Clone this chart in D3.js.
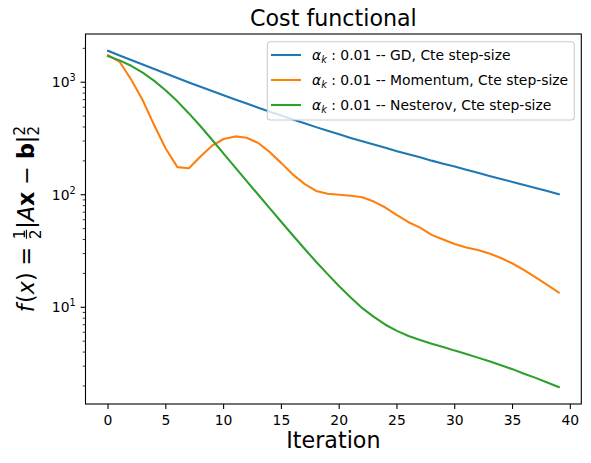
<!DOCTYPE html>
<html>
<head>
<meta charset="utf-8">
<script src="https://cdn.jsdelivr.net/npm/d3@7"></script>
<style>
  body { margin: 0; background: #fff; }
  svg { font-family: "DejaVu Sans", sans-serif; }
</style>
</head>
<body>
<div id="chart"></div>
<script>
// iteration index 0..39
const iterations = d3.range(40);
const xTicks = [0, 5, 10, 15, 20, 25, 30, 35, 40];

// cost values (log axis)
const gdCost = [1901, 1730, 1574, 1435, 1309, 1194, 1089, 995, 912, 836,
  766, 703, 646, 594, 547, 505, 467, 432, 399, 370,
  344, 320, 299, 279, 261, 244, 229, 215, 201, 189,
  178, 167, 157, 147, 138, 130, 122, 115, 108, 101];
const momentumCost = [1740, 1520, 1057, 692, 414, 256, 176, 172, 219, 273,
  313, 330, 321, 288, 239, 191, 151, 125, 108, 102,
  100, 98, 95, 87, 77, 66, 57, 51, 44, 40,
  36.5, 34, 32.3, 30.1, 27.4, 24.5, 21.4, 18.4, 15.8, 13.5];
const nesterovCost = [1706, 1563, 1400, 1216, 1028, 845, 676, 528, 406, 308,
  232, 175, 132, 100, 75.7, 57.3, 43.4, 33.1, 25.4, 19.7,
  15.4, 12.2, 9.82, 8.22, 7.00, 6.17, 5.56, 5.11, 4.74, 4.44,
  4.12, 3.85, 3.57, 3.31, 3.05, 2.82, 2.57, 2.36, 2.15, 1.95];

const seriesNames = ["GD", "Momentum", "Nesterov"];
const seriesColors = ["#1f77b4", "#ff7f0e", "#2ca02c"];
const allSeries = [gdCost, momentumCost, nesterovCost];

const width = 591, height = 463;
const plot = { left: 85.5, right: 581.3, top: 34, bottom: 404 };

const svg = d3.select("#chart").append("svg")
  .attr("width", width)
  .attr("height", height);

// matplotlib-like 5% margins
const xPad = (iterations[iterations.length - 1] - iterations[0]) * 0.05;
const x = d3.scaleLinear()
  .domain([iterations[0] - xPad, iterations[iterations.length - 1] + xPad])
  .range([plot.left, plot.right]);

const allVals = allSeries.flat();
const lmin = Math.log10(d3.min(allVals)), lmax = Math.log10(d3.max(allVals));
const lPad = (lmax - lmin) * 0.05;
const y = d3.scaleLog()
  .domain([Math.pow(10, lmin - lPad), Math.pow(10, lmax + lPad)])
  .range([plot.bottom, plot.top]);

// lines
const line = d3.line()
  .x((d, i) => x(iterations[i]))
  .y(d => y(d));

svg.append("clipPath").attr("id", "clip")
  .append("rect")
  .attr("x", plot.left).attr("y", plot.top)
  .attr("width", plot.right - plot.left)
  .attr("height", plot.bottom - plot.top);

svg.append("g").attr("clip-path", "url(#clip)")
  .selectAll("path")
  .data(allSeries)
  .enter().append("path")
  .attr("d", d => line(d))
  .attr("fill", "none")
  .attr("stroke", (d, i) => seriesColors[i])
  .attr("stroke-width", 2.08)
  .attr("stroke-linejoin", "round")
  .attr("stroke-linecap", "square");

// x axis ticks
const xAxis = svg.append("g");
xTicks.forEach(t => {
  xAxis.append("line")
    .attr("x1", x(t)).attr("x2", x(t))
    .attr("y1", plot.bottom).attr("y2", plot.bottom + 4.9)
    .attr("stroke", "#000").attr("stroke-width", 1.1);
  xAxis.append("text")
    .attr("x", x(t)).attr("y", plot.bottom + 21)
    .attr("text-anchor", "middle")
    .attr("font-size", 13.9)
    .text(t);
});

// y axis (log) ticks
const yAxis = svg.append("g");
const [ylo, yhi] = y.domain();
for (let dec = Math.floor(Math.log10(ylo)); dec <= Math.ceil(Math.log10(yhi)); dec++) {
  for (let k = 1; k <= 9; k++) {
    const v = k * Math.pow(10, dec);
    if (v < ylo || v > yhi) continue;
    const major = k === 1;
    yAxis.append("line")
      .attr("x1", plot.left).attr("x2", plot.left - (major ? 4.9 : 2.8))
      .attr("y1", y(v)).attr("y2", y(v))
      .attr("stroke", "#000").attr("stroke-width", major ? 1.1 : 0.8);
    if (major) {
      const lab = yAxis.append("text")
        .attr("x", plot.left - 9.8).attr("y", y(v) + 5)
        .attr("text-anchor", "end")
        .attr("font-size", 13.9);
      lab.append("tspan").text("10");
      lab.append("tspan").attr("font-size", 9.7).attr("dy", -6).text(dec);
    }
  }
}

// frame
svg.append("rect")
  .attr("x", plot.left).attr("y", plot.top)
  .attr("width", plot.right - plot.left)
  .attr("height", plot.bottom - plot.top)
  .attr("fill", "none")
  .attr("stroke", "#000")
  .attr("stroke-width", 1.1);

// title + x label
svg.append("text")
  .attr("x", (plot.left + plot.right) / 2).attr("y", 26)
  .attr("text-anchor", "middle")
  .attr("font-size", 22.2)
  .text("Cost functional");

svg.append("text")
  .attr("x", (plot.left + plot.right) / 2).attr("y", 448)
  .attr("text-anchor", "middle")
  .attr("font-size", 22.2)
  .text("Iteration");

// y label: f(x) = 1/2 |Ax - b|_2^2
const fs = 22.2;
const yl = svg.append("g");
const inner = yl.append("g");
let cx = 0;
function piece(txt, opts = {}) {
  const t = inner.append("text")
    .attr("x", cx).attr("y", opts.dy || 0)
    .attr("font-size", opts.size || fs)
    .attr("font-style", opts.italic ? "italic" : "normal")
    .attr("font-weight", opts.bold ? "bold" : "normal")
    .style("white-space", "pre")
    .text(txt);
  const w = t.node().getComputedTextLength();
  if (!opts.noAdvance) cx += w;
  return w;
}
piece("f", { italic: true });
cx += 1.5;
piece("(");
piece("x", { italic: true });
piece(")");
piece(" = ");
// fraction 1/2
const fsz = fs * 0.7;
const fx0 = cx + 1;
const fw = 9;
inner.append("text").attr("x", fx0 + fw / 2).attr("y", -9.5)
  .attr("font-size", fsz).attr("text-anchor", "middle").text("1");
inner.append("text").attr("x", fx0 + fw / 2).attr("y", 7)
  .attr("font-size", fsz).attr("text-anchor", "middle").text("2");
inner.append("line")
  .attr("x1", fx0).attr("x2", fx0 + fw)
  .attr("y1", -7.5).attr("y2", -7.5)
  .attr("stroke", "#000").attr("stroke-width", 1.1);
cx = fx0 + fw + 1;
piece("|");
piece("A", { italic: true });
piece("x", { bold: true });
piece(" \u2212 ");
piece("b", { bold: true });
piece("|");
piece("2", { size: fsz, dy: -9, noAdvance: true });
piece("2", { size: fsz, dy: 5 });
const labelW = cx;
yl.attr("transform", `translate(34,${(plot.top + plot.bottom) / 2}) rotate(-90)`);
inner.attr("transform", `translate(${-labelW / 2},0)`);

// legend
const lg = { x: 267.3, y: 41.7, w: 307, h: 78.3 };
const legend = svg.append("g");
legend.append("rect")
  .attr("x", lg.x).attr("y", lg.y)
  .attr("width", lg.w).attr("height", lg.h)
  .attr("rx", 3)
  .attr("fill", "#fff").attr("fill-opacity", 0.8)
  .attr("stroke", "#cccccc").attr("stroke-width", 1.1);

legend.selectAll("g.item")
  .data(seriesNames)
  .enter().append("g")
  .attr("class", "item")
  .attr("transform", (d, i) => `translate(0,${55 + i * 25})`)
  .each(function(d, i) {
    const g = d3.select(this);
    g.append("line")
      .attr("x1", 271).attr("x2", 301)
      .attr("y1", 0).attr("y2", 0)
      .attr("stroke", seriesColors[i]).attr("stroke-width", 2.08);
    const t = g.append("text")
      .attr("x", 312).attr("y", 5)
      .attr("font-size", 13.9)
      .style("white-space", "pre");
    t.append("tspan").attr("font-style", "italic").text("\u03b1");
    t.append("tspan").attr("font-style", "italic").attr("font-size", 9.7).attr("dy", 3).text("k");
    t.append("tspan").attr("dy", -3).text(` : 0.01 -- ${d}, Cte step-size`);
  });
</script>
</body>
</html>
